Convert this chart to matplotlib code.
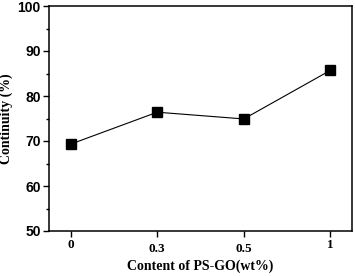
import matplotlib
matplotlib.use("Agg")
import matplotlib.pyplot as plt
from matplotlib.ticker import MultipleLocator
from matplotlib.transforms import ScaledTranslation

categories = ["0", "0.3", "0.5", "1"]
continuity = [69.3, 76.4, 74.9, 85.7]

fig = plt.figure(figsize=(3.55, 2.76), dpi=100)
ax = fig.add_axes([49/355, 1-231/276, (352-49)/355, (231-6)/276])

x = list(range(len(categories)))
ax.plot(x, continuity, color="black", lw=0.8, marker="s", ms=7, mfc="black", mec="black")

ax.set_xlim(-0.25, 3.25)
ax.set_ylim(50, 100)
ax.set_xticks(x)
ax.set_xticklabels(categories, family="Liberation Serif", fontweight="bold", fontsize=9.5)
ax.yaxis.set_major_locator(MultipleLocator(10))
ax.yaxis.set_minor_locator(MultipleLocator(5))
ax.tick_params(axis="both", which="major", direction="out", length=4, width=1, pad=2)
ax.tick_params(axis="y", which="minor", direction="out", length=2.5, width=1)
ax.tick_params(axis="x", pad=5)
for lab in ax.get_yticklabels():
    lab.set_family("Liberation Sans")
    lab.set_fontweight("bold")
    lab.set_fontsize(10)
for lab in ax.get_xticklabels():
    if lab.get_text() in ("0", "1"):
        lab.set_transform(lab.get_transform() + ScaledTranslation(0, 4/100, fig.dpi_scale_trans))
for s in ax.spines.values():
    s.set_linewidth(1.1)

ax.set_ylabel("Continuity (%)", family="Liberation Serif", fontweight="bold", fontsize=10)
ax.yaxis.set_label_coords(-0.118, 0.5)
ax.set_xlabel("Content of PS-GO(wt%)", family="Liberation Serif", fontweight="bold", fontsize=10, labelpad=3)

fig.savefig("out.png", dpi=100)
